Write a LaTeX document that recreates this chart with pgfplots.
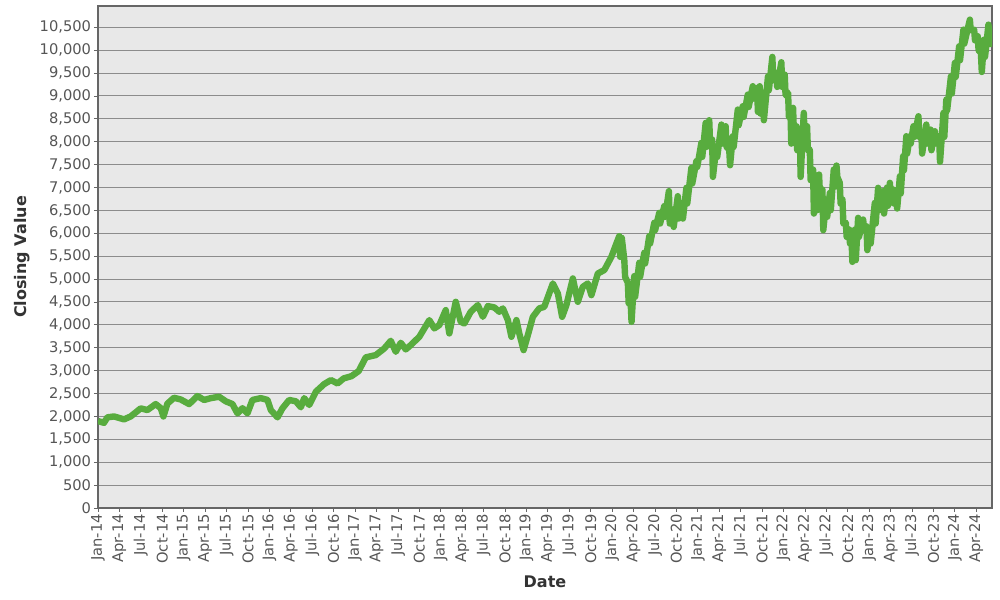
\documentclass[border=0pt]{standalone}
\usepackage{pgfplots}
\pgfplotsset{compat=1.18}
\usepackage{fontspec}
\setmainfont{DejaVu Sans}
\definecolor{bgc}{HTML}{E8E8E8}
\definecolor{gridc}{HTML}{8C8C8C}
\definecolor{linec}{HTML}{58AC3E}
\definecolor{tickc}{HTML}{555555}
\definecolor{framec}{HTML}{666666}
\definecolor{labc}{HTML}{333333}
\begin{document}
\begin{tikzpicture}
\useasboundingbox (0,0) rectangle (750pt,450pt);
\begin{axis}[
  at={(73.5pt,69pt)}, anchor=south west,
  scale only axis, width=670.5pt, height=376.5pt,
  xmin=0, xmax=125.2, ymin=0, ymax=10965,
  axis background/.style={fill=bgc},
  axis line style={framec, line width=0.8pt},
  ymajorgrids, grid style={gridc, line width=0.75pt},
  xtick={0,3,...,123},
  xticklabels={Jan-14,Apr-14,Jul-14,Oct-14,Jan-15,Apr-15,Jul-15,Oct-15,Jan-16,Apr-16,Jul-16,Oct-16,Jan-17,Apr-17,Jul-17,Oct-17,Jan-18,Apr-18,Jul-18,Oct-18,Jan-19,Apr-19,Jul-19,Oct-19,Jan-20,Apr-20,Jul-20,Oct-20,Jan-21,Apr-21,Jul-21,Oct-21,Jan-22,Apr-22,Jul-22,Oct-22,Jan-23,Apr-23,Jul-23,Oct-23,Jan-24,Apr-24},
  ytick={0,500,...,10500},
  scaled y ticks=false,
  /pgf/number format/.cd, 1000 sep={,}, assume math mode=true, /pgfplots/.cd,
  tick align=outside, major tick length=3pt,
  tick style={framec, line width=0.6pt},
  xtick pos=bottom, ytick pos=left,
  xticklabel style={rotate=90, anchor=east, inner sep=1.5pt, font=\fontsize{11}{13}\selectfont, text=tickc},
  yticklabel style={inner sep=2pt, font=\fontsize{11}{13}\selectfont, text=tickc},
  xlabel={Date}, ylabel={Closing Value},
  xlabel style={at={(axis description cs:0.5,-0.147)}, anchor=center, font=\fontsize{12}{14}\selectfont\bfseries, text=labc},
  ylabel style={at={(axis description cs:-0.085,0.5)}, anchor=center, font=\fontsize{12}{14}\selectfont\bfseries, text=labc},
]
\addplot[linec, line width=4.8pt, line join=round, no markers] coordinates {
(0,1900) (0.84,1860) (1.31,1980) (2.24,2000) (3.64,1936) (4.58,2000) (5.98,2176) (6.92,2140) (8.08,2270) (8.79,2180) (9.16,2000) (9.72,2280) (10.65,2408) (11.59,2370) (12.76,2270) (13.92,2445) (14.86,2360) (15.8,2400) (16.96,2430) (17.9,2330) (18.83,2270) (19.53,2067) (20.23,2180) (20.93,2067) (21.63,2360) (22.8,2400) (23.74,2360) (24.2,2140) (25.14,1980) (25.84,2180) (26.78,2360) (27.71,2330) (28.41,2200) (28.88,2400) (29.58,2250) (30.51,2540) (31.68,2707) (32.62,2794) (33.55,2720) (34.4,2830) (35.5,2880) (36.5,2990) (37.5,3290) (38.9,3340) (40.1,3486) (41.0,3652) (41.7,3412) (42.4,3609) (43.1,3464) (43.8,3558) (45.0,3740) (46.4,4104) (47.1,3923) (47.8,3995) (48.7,4322) (49.2,3813) (50.1,4504) (50.8,4067) (51.3,4031) (52.2,4286) (53.2,4432) (53.9,4176) (54.6,4410) (55.5,4381) (56.2,4286) (56.7,4360) (57.4,4104) (57.9,3740) (58.6,4104) (59.0,3813) (59.6,3449) (60.2,3777) (60.9,4176) (61.8,4360) (62.5,4394) (63.7,4905) (64.4,4687) (65.0,4176) (65.6,4432) (66.5,5014) (67.2,4504) (67.9,4831) (68.6,4905) (69.1,4650) (70.0,5123) (70.9,5196) (71.9,5486) (72.6,5778)
(73.0,5938) (73.12,5486) (73.35,5900)
(73.7,5429) (73.82,5049) (74.2,4919) (74.32,4467) (74.6,4482) (74.72,4066)
(75.1,5065) (75.22,4612) (75.8,5356) (75.92,5049) (76.5,5574) (76.62,5340)
(77.2,5938) (77.32,5776) (77.9,6229) (78.02,6068) (78.6,6447) (78.72,6213)
(79.3,6593) (79.42,6359) (79.95,6921) (80.07,6213) (80.5,6520) (80.62,6140)
(81.2,6811) (81.32,6322) (81.8,6665) (81.92,6322) (82.4,6993) (82.52,6650)
(83.1,7429) (83.22,7086) (83.8,7575) (83.92,7450) (84.5,7975) (84.62,7668)
(85.1,8412) (85.22,7887) (85.6,8470) (85.72,7959) (86.0,8048) (86.12,7232)
(86.6,7902) (86.72,7668) (87.3,8375) (87.42,7959) (87.9,8339) (88.02,7887)
(88.4,7829) (88.52,7486) (88.9,8121) (89.02,7887) (89.6,8703) (89.72,8360)
(90.3,8776) (90.42,8542) (91.0,9030) (91.12,8760) (91.7,9213) (91.82,8942)
(92.3,9176) (92.42,8651)
(92.67,9213) (92.79,8614) (93.13,9067) (93.25,8469) (93.83,9431) (93.95,9124)
(94.44,9853) (94.56,9343) (95.0,9503) (95.12,9197) (95.7,9736) (95.82,9197)
(96.17,9467) (96.29,9015) (96.64,9067) (96.76,8542) (96.97,8703) (97.09,7959)
(97.34,8740) (97.46,8178) (97.8,8339) (97.92,7815) (98.28,8266) (98.4,7232)
(98.84,8630) (98.96,8105) (99.3,8339) (99.42,7815) (99.68,7829) (99.8,7160)
(100.14,7393) (100.26,6431) (100.6,7248) (100.72,6505) (100.98,7283) (101.1,6868)
(101.45,6956) (101.57,6068) (102.0,6738) (102.12,6359) (102.5,6884) (102.62,6505)
(103.04,7393) (103.16,7014) (103.42,7480) (103.54,7232) (103.88,7102) (104.0,6649)
(104.26,6738) (104.38,6213) (104.73,6229) (104.85,5922) (105.19,6083) (105.31,5776)
(105.52,5938) (105.64,5376) (106.0,6083) (106.12,5413) (106.45,6338) (106.57,5922)
(107.15,6301) (107.27,6140) (107.62,6156) (107.74,5632) (108.09,6083) (108.21,5776)
(108.79,6665) (108.91,6213) (109.25,6994) (109.37,6505) (109.96,6921) (110.08,6431)
(110.5,7000) (110.62,6600)
(110.9,7102) (111.02,6795) (111.35,6956) (111.47,6650) (111.8,6811) (111.92,6541)
(112.3,7247) (112.42,6868) (112.75,7684) (112.87,7377) (113.2,8121) (113.32,7741)
(113.7,8121) (113.82,7959) (114.2,8339) (114.32,8105) (114.9,8557) (115.02,8105)
(115.3,8193) (115.42,7741) (116.0,8375) (116.12,7959) (116.6,8266) (116.72,7814)
(117.2,8230) (117.32,7959) (117.8,8121) (117.92,7559) (118.4,8630) (118.52,8105)
(118.8,8921) (118.92,8687) (119.45,9430) (119.57,9051) (120.0,9722) (120.12,9415)
(120.6,10085) (120.72,9779) (121.2,10449) (121.32,10142) (122.1,10667) (122.22,10434)
(122.7,10449) (122.82,10215) (123.2,10304) (123.32,9997) (123.65,9940) (123.77,9524)
(124.1,10231) (124.22,9852) (124.7,10558) (124.82,10361) (125.15,10304) (125.2,10070)
};
\end{axis}
\end{tikzpicture}
\end{document}
